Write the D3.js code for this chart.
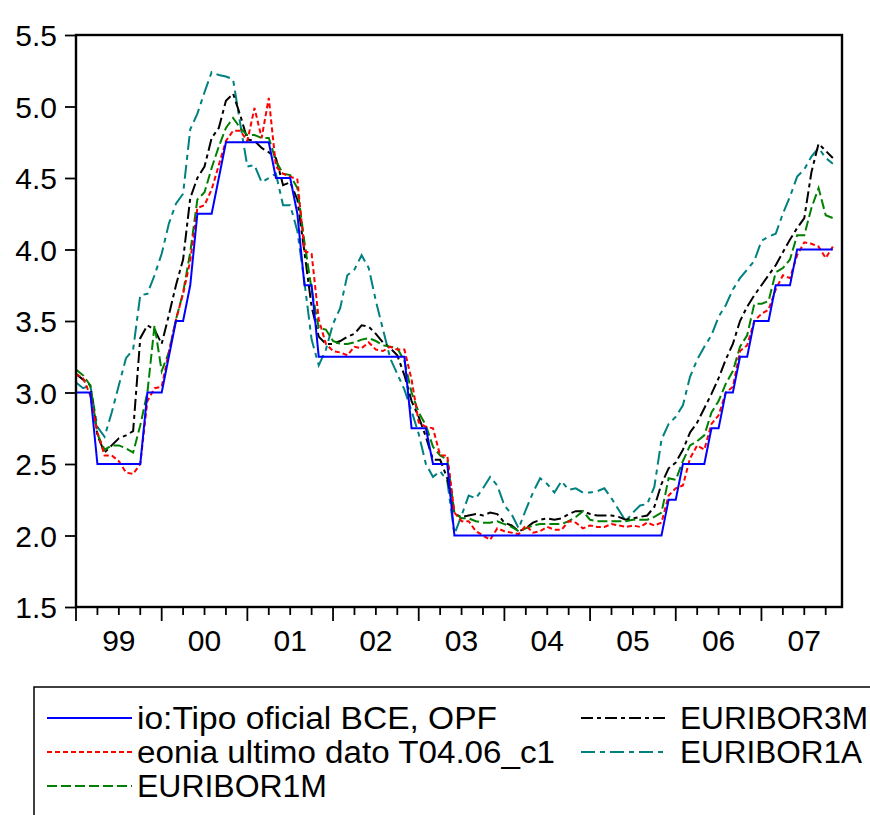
<!DOCTYPE html>
<html>
<head>
<meta charset="utf-8">
<script src="https://cdn.jsdelivr.net/npm/d3@7"></script>
<style>
  html, body { margin: 0; padding: 0; background: #fff; }
  svg { display: block; font-family: "Liberation Sans", Arial, sans-serif; }
</style>
</head>
<body>
<svg id="chart" width="870" height="815"></svg>
<script>
// ---- data: monthly, Jan 1999 .. Nov 2007 ----
const startYear = 1999;
const yearLabels = ["99","00","01","02","03","04","05","06","07"];
const yTicks = [1.5, 2.0, 2.5, 3.0, 3.5, 4.0, 4.5, 5.0, 5.5];

const tipoOficial = [
  3.00,3.00,3.00,2.50,2.50,2.50,2.50,2.50,2.50,2.50,3.00,3.00,
  3.00,3.25,3.50,3.50,3.75,4.25,4.25,4.25,4.50,4.75,4.75,4.75,
  4.75,4.75,4.75,4.75,4.50,4.50,4.50,4.25,3.75,3.75,3.25,3.25,
  3.25,3.25,3.25,3.25,3.25,3.25,3.25,3.25,3.25,3.25,3.25,2.75,
  2.75,2.75,2.50,2.50,2.50,2.00,2.00,2.00,2.00,2.00,2.00,2.00,
  2.00,2.00,2.00,2.00,2.00,2.00,2.00,2.00,2.00,2.00,2.00,2.00,
  2.00,2.00,2.00,2.00,2.00,2.00,2.00,2.00,2.00,2.00,2.00,2.25,
  2.25,2.50,2.50,2.50,2.50,2.75,2.75,3.00,3.00,3.25,3.25,3.50,
  3.50,3.50,3.75,3.75,3.75,4.00,4.00,4.00,4.00,4.00,4.00
];
const eonia = [
  3.13,3.10,2.98,2.72,2.56,2.56,2.52,2.44,2.43,2.50,2.94,3.03,
  3.04,3.28,3.51,3.69,3.92,4.29,4.31,4.42,4.59,4.76,4.83,4.83,
  4.76,4.99,4.78,5.06,4.58,4.53,4.51,4.49,3.99,3.97,3.51,3.34,
  3.29,3.28,3.26,3.32,3.31,3.35,3.30,3.29,3.32,3.30,3.30,3.09,
  2.79,2.76,2.75,2.56,2.56,2.16,2.10,2.10,2.03,2.00,1.97,2.05,
  2.03,2.02,2.01,2.07,2.02,2.03,2.06,2.04,2.04,2.10,2.09,2.05,
  2.07,2.06,2.06,2.08,2.07,2.06,2.07,2.06,2.09,2.07,2.09,2.28,
  2.33,2.35,2.54,2.63,2.60,2.78,2.84,3.00,3.04,3.29,3.33,3.50,
  3.55,3.58,3.72,3.82,3.80,3.96,4.05,4.04,4.02,3.94,4.02
];
const euribor1M = [
  3.16,3.12,3.05,2.71,2.60,2.63,2.63,2.61,2.58,2.77,3.00,3.47,
  3.15,3.28,3.51,3.70,3.98,4.35,4.40,4.57,4.72,4.85,4.92,4.85,
  4.80,4.80,4.78,4.78,4.62,4.53,4.52,4.43,4.05,3.72,3.45,3.44,
  3.36,3.34,3.34,3.35,3.37,3.38,3.36,3.33,3.32,3.31,3.22,3.00,
  2.86,2.77,2.62,2.56,2.53,2.16,2.12,2.12,2.10,2.09,2.09,2.10,
  2.08,2.06,2.03,2.05,2.07,2.08,2.08,2.08,2.08,2.10,2.13,2.17,
  2.11,2.10,2.10,2.10,2.10,2.10,2.11,2.11,2.11,2.13,2.16,2.40,
  2.39,2.52,2.63,2.66,2.70,2.86,2.94,3.06,3.15,3.32,3.40,3.62,
  3.62,3.64,3.84,3.87,3.93,4.10,4.10,4.29,4.43,4.24,4.22
];
const euribor3M = [
  3.13,3.09,3.05,2.70,2.58,2.63,2.68,2.70,2.73,3.38,3.47,3.44,
  3.34,3.54,3.75,3.93,4.36,4.50,4.58,4.78,4.85,5.04,5.09,4.94,
  4.77,4.76,4.71,4.68,4.64,4.45,4.47,4.35,3.98,3.60,3.39,3.34,
  3.34,3.36,3.39,3.41,3.47,3.46,3.41,3.35,3.31,3.26,3.12,2.94,
  2.83,2.69,2.53,2.53,2.40,2.15,2.13,2.14,2.15,2.14,2.16,2.15,
  2.09,2.07,2.03,2.05,2.09,2.11,2.12,2.11,2.12,2.15,2.17,2.17,
  2.15,2.14,2.14,2.14,2.13,2.11,2.12,2.13,2.14,2.20,2.36,2.47,
  2.51,2.60,2.72,2.79,2.89,2.99,3.10,3.23,3.34,3.50,3.60,3.68,
  3.75,3.82,3.89,3.98,4.07,4.15,4.22,4.54,4.74,4.69,4.64
];
const euribor1A = [
  3.07,3.03,3.05,2.76,2.69,2.86,3.05,3.24,3.30,3.68,3.69,3.82,
  3.97,4.18,4.32,4.39,4.84,4.95,5.10,5.24,5.22,5.21,5.19,4.88,
  4.58,4.59,4.47,4.50,4.53,4.31,4.31,4.13,3.77,3.37,3.19,3.30,
  3.48,3.59,3.82,3.86,3.96,3.87,3.64,3.44,3.24,3.13,3.02,2.87,
  2.71,2.50,2.41,2.45,2.38,2.01,2.14,2.28,2.26,2.33,2.41,2.35,
  2.21,2.15,2.05,2.18,2.30,2.40,2.36,2.30,2.38,2.32,2.33,2.30,
  2.30,2.31,2.33,2.26,2.18,2.10,2.16,2.21,2.22,2.34,2.67,2.78,
  2.83,2.91,3.11,3.23,3.32,3.40,3.53,3.61,3.72,3.80,3.86,3.92,
  4.06,4.09,4.11,4.25,4.37,4.51,4.56,4.65,4.71,4.64,4.60
];

const seriesNames = ["io:Tipo oficial BCE, OPF", "eonia ultimo dato T04.06_c1", "EURIBOR1M", "EURIBOR3M", "EURIBOR1A"];
const seriesValues = [tipoOficial, eonia, euribor1M, euribor3M, euribor1A];
const seriesColors = ["#0000ff", "#ff0000", "#008000", "#000000", "#008080"];
const seriesDash = [null, "5,3", "10,4", "12,4,4,4", "14,5,5,5"];

// ---- layout ----
const L = 76, R = 842, T = 35, B = 607;
const monthW = 7.14;
const svg = d3.select("#chart");

const x = d3.scaleLinear().domain([0, 108]).range([L, L + 108 * monthW]);
const y = d3.scaleLinear().domain([1.5, 5.5]).range([B, T]);

svg.append("defs").append("clipPath").attr("id", "clip")
  .append("rect").attr("x", L).attr("y", T).attr("width", R - L).attr("height", B - T);

const line = d3.line().x((d, i) => x(i)).y(d => y(d));
const g = svg.append("g").attr("clip-path", "url(#clip)");
[4, 3, 2, 1, 0].forEach(k => {
  g.append("path")
    .attr("d", line(seriesValues[k]))
    .attr("fill", "none")
    .attr("stroke", seriesColors[k])
    .attr("stroke-width", 2)
    .attr("stroke-dasharray", seriesDash[k])
    .attr("stroke-linejoin", "miter");
});

// frame
svg.append("rect").attr("x", L).attr("y", T).attr("width", R - L).attr("height", B - T)
  .attr("fill", "none").attr("stroke", "#000").attr("stroke-width", 2.4);

// y axis
const yAxis = d3.axisLeft(y).tickValues(yTicks).tickFormat(d3.format(".1f")).tickSize(11).tickPadding(8);
const ya = svg.append("g").attr("transform", `translate(${L},0)`).call(yAxis);
ya.select(".domain").remove();
ya.selectAll("line").attr("stroke", "#000").attr("stroke-width", 1.8);
ya.selectAll("text").attr("font-size", 30).attr("fill", "#000")
  .attr("font-family", "'Liberation Sans', Arial, sans-serif").attr("dy", "0.36em");

// x axis ticks (quarterly minor, yearly major)
const qTicks = d3.range(0, 108, 3);
svg.append("g").selectAll("line").data(qTicks).join("line")
  .attr("x1", d => x(d)).attr("x2", d => x(d))
  .attr("y1", B).attr("y2", d => B + (d % 12 === 0 ? 14 : 8))
  .attr("stroke", "#000").attr("stroke-width", 1.8);

svg.append("g").selectAll("text").data(yearLabels).join("text")
  .attr("x", (d, i) => x(i * 12 + 6))
  .attr("y", 651)
  .attr("text-anchor", "middle")
  .attr("font-size", 30)
  .attr("fill", "#000")
  .text(d => d);

// legend
const leg = svg.append("g");
leg.append("rect").attr("x", 34).attr("y", 687).attr("width", 900).attr("height", 200)
  .attr("fill", "none").attr("stroke", "#000").attr("stroke-width", 1.5);

const legendItems = [
  {k: 0, lx: 47, tx: 137, ty: 718, w: 360},
  {k: 1, lx: 47, tx: 137, ty: 752, w: 418},
  {k: 2, lx: 47, tx: 137, ty: 786, w: 190},
  {k: 3, lx: 581, tx: 680, ty: 718, w: 188},
  {k: 4, lx: 581, tx: 680, ty: 752, w: 182}
];
legendItems.forEach(it => {
  leg.append("line")
    .attr("x1", it.lx).attr("x2", it.lx + 85)
    .attr("y1", it.ty).attr("y2", it.ty)
    .attr("stroke", seriesColors[it.k]).attr("stroke-width", 2)
    .attr("stroke-dasharray", seriesDash[it.k]);
  leg.append("text")
    .attr("x", it.tx).attr("y", it.ty + 11)
    .attr("font-size", 31)
    .attr("fill", "#000")
    .attr("textLength", it.w)
    .attr("lengthAdjust", "spacingAndGlyphs")
    .text(seriesNames[it.k]);
});
</script>
</body>
</html>
